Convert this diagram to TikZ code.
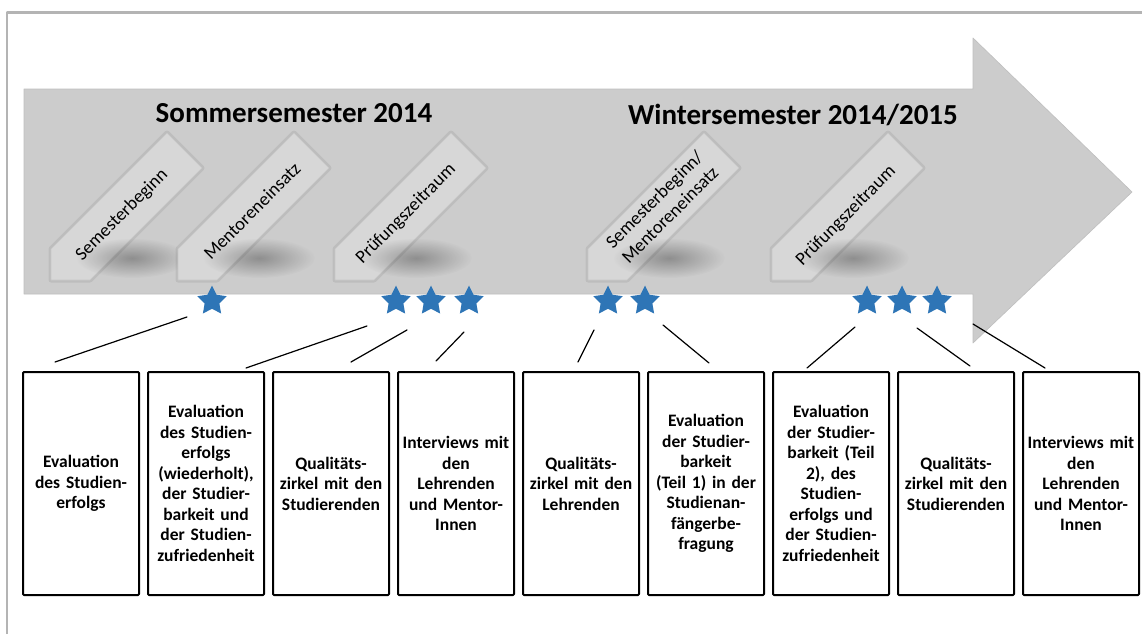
\documentclass[tikz,border=0pt]{standalone}
\usepackage{fontspec}
\setmainfont{Carlito}
\usetikzlibrary{shapes.geometric,fadings}
\definecolor{pfeilgrau}{RGB}{204,204,204}
\definecolor{schildgrau}{RGB}{215,215,215}
\definecolor{sternblau}{RGB}{46,117,182}
\definecolor{rahmengrau}{RGB}{180,180,180}
\tikzfading[name=weich,inner color=transparent!0,outer color=transparent!100]
\begin{document}
\begin{tikzpicture}[x=1pt,y=-1pt,line join=round,line cap=round,
	kasten/.style={draw,line width=2pt,rounded corners=1pt,minimum width=116pt,minimum height=223pt,text width=114pt,inner sep=0pt,align=center,anchor=north west,font=\fontsize{17.5}{20.5}\selectfont\bfseries},
	stern/.style={star,star points=5,star point ratio=2,fill=sternblau,minimum size=31pt,inner sep=0pt},
	schild/.style={fill=schildgrau,draw=black!22,line width=0.6pt},
	schein/.style={draw=black,opacity=0.07,line width=5pt},
	schatten/.style={fill=black,opacity=0.3,path fading=weich},
	etikett/.style={rotate=45,font=\fontsize{18.5}{22}\selectfont,align=center},
	titel/.style={font=\fontsize{29}{29}\selectfont\bfseries},
	linie/.style={line width=1.2pt}]
	\useasboundingbox (0,0) rectangle (1142,634);
	\fill[white] (0,0) rectangle (1142,634);
	\draw[rahmengrau,line width=2.5pt,line cap=butt] (7,634)--(7,12.5)--(1142,12.5);
	\filldraw[fill=pfeilgrau,draw=black!25,line width=0.6pt] (24,89)--(973,89)--(973,38)--(1132,192)--(973,343)--(973,294)--(24,294)--cycle;
	\foreach \d in {0,127,284,537,721}{
		\begin{scope}[shift={(\d,0)}]
			\draw[schein] (51,280)--(51,249)--(167,133)--(202,168)--(90,280)--cycle;
			\filldraw[schild] (51,280)--(51,249)--(167,133)--(202,168)--(90,280)--cycle;
			\fill[schatten] (132,258) ellipse (56 and 20);
		\end{scope}
	}
	\node[etikett] (e1) at (122,215) {Semesterbeginn};
	\node[etikett] (e2) at (252,211) {Mentoreneinsatz};
	\node[etikett] (e3) at (406,214) {Prüfungszeitraum};
	\node[etikett] (e4) at (662,207) {Semesterbeginn/\\Mentoreneinsatz};
	\node[etikett] (e5) at (846,216) {Prüfungszeitraum};
	\node[titel] (t1) at (294,113) {Sommersemester 2014};
	\node[titel] (t2) at (793,115) {Wintersemester 2014/2015};
	\node[stern] (s1) at (212,301) {};
	\node[stern] (s2) at (396,301) {};
	\node[stern] (s3) at (431,301) {};
	\node[stern] (s4) at (469,301) {};
	\node[stern] (s5) at (608,301) {};
	\node[stern] (s6) at (645,301) {};
	\node[stern] (s7) at (867,301) {};
	\node[stern] (s8) at (902,301) {};
	\node[stern] (s9) at (937,301) {};
	\coordinate (a1) at (187,317); \coordinate (b1) at (55,362);
	\coordinate (a2) at (367,326); \coordinate (b2) at (246,368);
	\coordinate (a3) at (407,330); \coordinate (b3) at (351,362);
	\coordinate (a4) at (464,332); \coordinate (b4) at (436,361);
	\coordinate (a5) at (594,330); \coordinate (b5) at (578,362);
	\coordinate (a6) at (663,325); \coordinate (b6) at (709,363);
	\coordinate (a7) at (855,327); \coordinate (b7) at (807,368);
	\coordinate (a8) at (917,328); \coordinate (b8) at (970,366);
	\coordinate (a9) at (973,324); \coordinate (b9) at (1045,368);
	\draw[linie] (a1)--(b1);
	\draw[linie] (a2)--(b2);
	\draw[linie] (a3)--(b3);
	\draw[linie] (a4)--(b4);
	\draw[linie] (a5)--(b5);
	\draw[linie] (a6)--(b6);
	\draw[linie] (a7)--(b7);
	\draw[linie] (a8)--(b8);
	\draw[linie] (a9)--(b9);
	\node[kasten] (k1) at (22,371) {Evaluation\\des Studien-\\erfolgs};
	\node[kasten] (k2) at (147,371) {Evaluation\\des Studien-\\erfolgs\\(wiederholt),\\der Studier-\\barkeit und\\der Studien-\\zufriedenheit};
	\node[kasten] (k3) at (272,371) {Qualitäts-\\zirkel mit den\\Studierenden};
	\node[kasten] (k4) at (397,371) {Interviews mit\\den\\Lehrenden\\und Mentor-\\Innen};
	\node[kasten] (k5) at (522,371) {Qualitäts-\\zirkel mit den\\Lehrenden};
	\node[kasten] (k6) at (647,371) {Evaluation\\der Studier-\\barkeit\\(Teil 1) in der\\Studienan-\\fängerbe-\\fragung};
	\node[kasten] (k7) at (772,371) {Evaluation\\der Studier-\\barkeit (Teil\\2), des\\Studien-\\erfolgs und\\der Studien-\\zufriedenheit};
	\node[kasten] (k8) at (897,371) {Qualitäts-\\zirkel mit den\\Studierenden};
	\node[kasten] (k9) at (1022,371) {Interviews mit\\den\\Lehrenden\\und Mentor-\\Innen};
\end{tikzpicture}
\end{document}
